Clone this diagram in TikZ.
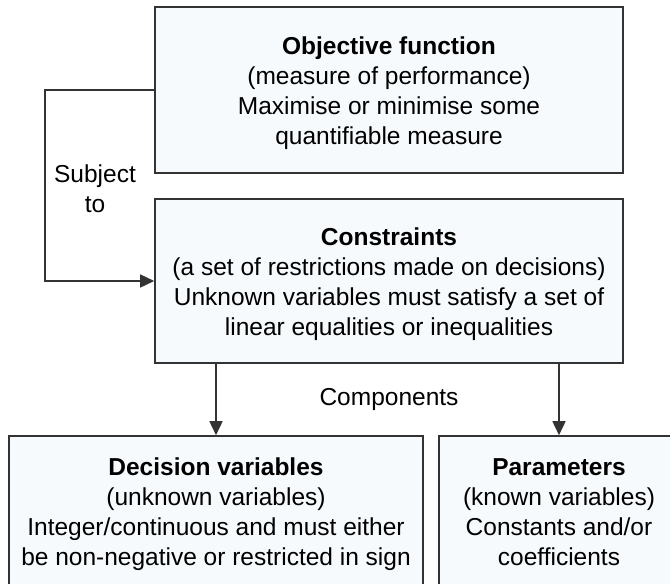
\documentclass[tikz,border=0pt]{standalone}
\usepackage{fontspec}
\setmainfont{Liberation Sans}
\usetikzlibrary{arrows.meta}
\definecolor{boxfill}{HTML}{F6FAFC}
\definecolor{edge}{HTML}{333333}
% taller first line so the block of text sits a little lower in its box
\newcommand\headstrut{\rule{0pt}{24pt}}
% descender depth for a last line that has none
\newcommand\footstrut{\rule[-5.2pt]{0pt}{5.2pt}}
\tikzset{
  every node/.style={font=\fontsize{24.5}{30}\selectfont, text=black},
  card/.style={draw=edge, line width=1.6pt, fill=boxfill, align=center, inner sep=0pt},
  link/.style={draw=edge, line width=1.6pt, -{Triangle[length=14pt,width=13pt]}},
  note/.style={align=center, inner sep=0pt}
}
\begin{document}
\begin{tikzpicture}[x=1pt, y=-1pt]
\clip (0,0) rectangle (670,584);
\fill[white] (0,0) rectangle (670,584);

\node[card, minimum width=468pt, minimum height=166pt] (obj) at (389,90)
  {\headstrut\textbf{Objective function}\\(measure of performance)\\Maximise or minimise some\\quantifiable measure};
\node[card, minimum width=468pt, minimum height=164pt] (con) at (389,281)
  {\headstrut\textbf{Constraints}\\(a set of restrictions made on decisions)\\Unknown variables must satisfy a set of\\linear equalities or inequalities};
\node[card, minimum width=414pt, minimum height=151pt] (dv) at (216,511.5)
  {\headstrut\textbf{Decision variables}\\(unknown variables)\\Integer/continuous and must either\\be non-negative or restricted in sign};
\node[card, minimum width=240pt, minimum height=151pt] (par) at (559,511.5)
  {\headstrut\textbf{Parameters}\\(known variables)\\Constants and/or\\coefficients\footstrut};

\node[note] (subj) at (95,189) {Subject\\to};
\node[note] (comp) at (389,399) {Components};

\draw[link] (obj.west) -- ++(-109,0) |- (con.west);
\draw[link] (dv.north |- con.south) -- (dv.north);
\draw[link] (par.north |- con.south) -- (par.north);
\end{tikzpicture}
\end{document}
